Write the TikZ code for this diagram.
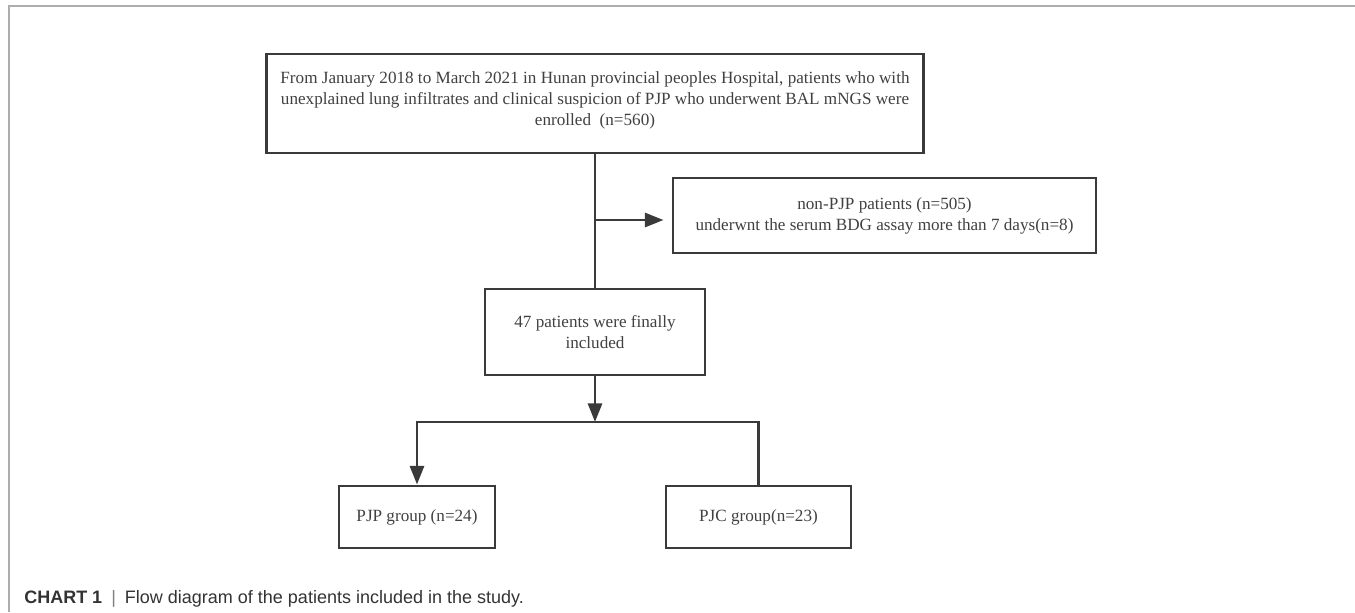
\documentclass[tikz,border=0pt]{standalone}
\usepackage{fontspec}
\setmainfont{Liberation Serif}
\setsansfont{Liberation Sans}
\usetikzlibrary{arrows.meta}
\usepackage{xcolor}
\definecolor{boxline}{HTML}{3A3A3A}
\definecolor{frameline}{HTML}{ADADAD}
\definecolor{boxtext}{HTML}{404040}

\begin{document}
\begin{tikzpicture}[x=.75pt,y=-.75pt,
  box/.style={draw=boxline, line width=2.2pt, align=center, text=boxtext, inner sep=0pt, font=\fontsize{12.85}{15.75}\selectfont},
  link/.style={boxline, line width=2.2pt},
  >={Triangle[length=14pt,width=10.5pt]}]
\useasboundingbox (0,0) rectangle (1355,612);
\draw[frameline, line width=1pt] (9,612)--(9,6)--(1355,6);
\node[box, minimum width=492.75pt, minimum height=74.25pt] (enrolled) at (595,103.5)
  {From January 2018 to March 2021 in Hunan provincial peoples Hospital, patients who with\\
   unexplained lung infiltrates and clinical suspicion of PJP who underwent BAL mNGS were\\
   enrolled\ \ (n=560)\\[-8pt]};
\node[box, minimum width=317.25pt, minimum height=56.25pt] (excluded) at (884.5,215.5)
  {non-PJP patients (n=505)\\ underwnt the serum BDG assay more than 7 days(n=8)};
\node[box, minimum width=165pt, minimum height=64.5pt] (included) at (595,332)
  {47 patients were finally\\ included};
\node[box, minimum width=117pt, minimum height=46.5pt] (pjp) at (417,517) {PJP group (n=24)};
\node[box, minimum width=138.75pt, minimum height=46.5pt] (pjc) at (758.5,517) {PJC group(n=23)};
\coordinate (tee) at (enrolled.south |- 0,220);
\coordinate (split) at (595,422);
\draw[link] (enrolled.south) -- (included.north);
\draw[link,->,shorten >=6pt] (tee) -- (tee -| excluded.west);
\draw[link,->] (included.south) -- (split);
\draw[link,->] (pjc.north) -- (pjc.north |- split) -- (pjp.north |- split) -- (pjp.north);
\node[anchor=base west, inner sep=0pt, text=black!80, font=\sffamily\fontsize{13.5}{15}\selectfont] (caption) at (24,603)
  {\textbf{CHART 1}\enspace{\color{black!50}|}\enspace Flow diagram of the patients included in the study.};
\end{tikzpicture}
\end{document}
